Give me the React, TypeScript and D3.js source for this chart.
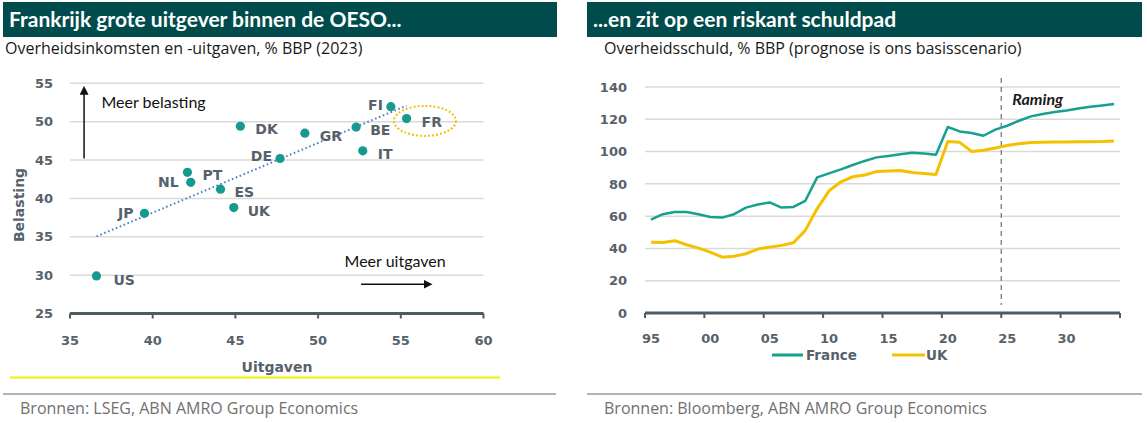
import * as d3 from "d3";

// ---- left panel: revenue vs spending, % GDP (2023)
const COUNTRIES = ["US", "JP", "NL", "PT", "ES", "UK", "DK", "DE", "GR", "BE", "IT", "FI", "FR"];
const SPENDING = [36.6, 39.5, 42.3, 42.1, 44.1, 44.9, 45.3, 47.7, 49.2, 52.3, 52.7, 54.4, 55.35];
const REVENUE = [29.9, 38.05, 42.1, 43.4, 41.2, 38.8, 49.4, 45.2, 48.5, 49.3, 46.2, 51.95, 50.4];

const LEFT_X_TICKS = [35, 40, 45, 50, 55, 60];
const LEFT_Y_TICKS = [25, 30, 35, 40, 45, 50, 55];

// ---- right panel: government debt, % GDP
const YEARS = [
  1995, 1996, 1997, 1998, 1999, 2000, 2001, 2002, 2003, 2004, 2005, 2006, 2007, 2008, 2009, 2010, 2011, 2012, 2013, 2014,
  2015, 2016, 2017, 2018, 2019, 2020, 2021, 2022, 2023, 2024, 2025, 2026, 2027, 2028, 2029, 2030, 2031, 2032, 2033, 2034,
];
const FRANCE = [
  57.9, 61.2, 62.6, 62.6, 61.2, 59.5, 59.1, 61.2, 65.3, 67.2, 68.5, 65.3, 65.7, 69.5, 84.0, 86.5, 89.0, 91.7, 94.2, 96.4,
  97.3, 98.3, 99.3, 98.8, 98.1, 115.2, 112.5, 111.5, 109.8, 113.6, 116.0, 119.1, 121.8, 123.3, 124.5, 125.5, 126.7, 127.8, 128.6, 129.5,
];
const UK = [
  43.9, 43.7, 44.8, 42.3, 40.2, 37.7, 34.6, 35.2, 36.7, 39.6, 40.8, 41.9, 43.5, 51.2, 64.7, 75.7, 81.3, 84.4, 85.5, 87.6,
  88.0, 88.3, 87.0, 86.4, 85.8, 106.3, 105.7, 100.1, 100.8, 102.2, 103.8, 104.9, 105.6, 105.8, 106.0, 106.0, 106.1, 106.1, 106.2, 106.5,
];
const RIGHT_Y_TICKS = [0, 20, 40, 60, 80, 100, 120, 140];
const RIGHT_X_LABELS = [1995, 2000, 2005, 2010, 2015, 2020, 2025, 2030];
const FORECAST_START = 2024.5;

// label placement next to each dot: dx, dy (px), anchor
const LABEL_POS: Record<string, [number, number, "start" | "end"]> = {
  US: [17, 4, "start"],
  JP: [-11, 0, "end"],
  NL: [-12, 0, "end"],
  PT: [15, 3, "start"],
  ES: [14, 3, "start"],
  UK: [14, 3, "start"],
  DK: [15, 3, "start"],
  DE: [-8, -3, "end"],
  GR: [15, 3, "start"],
  BE: [14, 3, "start"],
  IT: [15, 3, "start"],
  FI: [-8, -2, "end"],
  FR: [15, 3, "start"],
};

const DARK = "#004c4c";
const TEAL = "#16998f";
const YELLOW = "#f5c000";
const GRID = "#d9d9d9";
const AXIS = "#4f5b62";
const TICK_TXT = "#56626b";
const F_HEAD = "Lato, sans-serif";
const F_BOLD = "'DejaVu Sans', sans-serif";
const F_TEXT = "'Open Sans', sans-serif";

function Header({ x, w, title, sub, subX }: { x: number; w: number; title: string; sub: string; subX: number }) {
  return (
    <g>
      <rect x={x} y={2} width={w} height={35} fill={DARK} />
      <text x={x + 6} y={27} fill="#fff" fontFamily={F_HEAD} fontWeight={700} fontSize={21}>
        {title}
      </text>
      <text x={subX} y={54} fill="#1a1a1a" fontFamily={F_TEXT} fontSize={16}>
        {sub}
      </text>
    </g>
  );
}

function Scatter() {
  const x = d3.scaleLinear().domain([35, 60]).range([70, 483.5]);
  const y = d3.scaleLinear().domain([25, 55]).range([313.5, 83.3]);

  // least-squares trend line over the data range
  const mx = d3.mean(SPENDING)!;
  const my = d3.mean(REVENUE)!;
  const slope =
    d3.sum(SPENDING, (v, i) => (v - mx) * (REVENUE[i] - my)) / d3.sum(SPENDING, (v) => (v - mx) * (v - mx));
  const [x0, x1] = d3.extent(SPENDING) as [number, number];
  const trend = (v: number) => my + slope * (v - mx);

  return (
    <g>
      {LEFT_Y_TICKS.slice(1).map((t) => (
        <line key={t} x1={x(35)} x2={x(60)} y1={y(t)} y2={y(t)} stroke={GRID} strokeWidth={1.5} />
      ))}
      {LEFT_Y_TICKS.map((t) => (
        <text key={t} x={53} y={y(t)} dy="0.36em" textAnchor="end" fill={TICK_TXT} fontFamily={F_BOLD} fontWeight={700} fontSize={13}>
          {t}
        </text>
      ))}
      <line x1={x(35)} x2={x(60)} y1={y(25)} y2={y(25)} stroke={AXIS} strokeWidth={3} />
      {LEFT_X_TICKS.map((t) => (
        <g key={t}>
          <line x1={x(t)} x2={x(t)} y1={y(25)} y2={y(25) + 5} stroke={AXIS} strokeWidth={2} />
          <text x={x(t)} y={340} dy="0.36em" textAnchor="middle" fill={TICK_TXT} fontFamily={F_BOLD} fontWeight={700} fontSize={13}>
            {t}
          </text>
        </g>
      ))}
      <text x={277} y={367} dy="0.36em" textAnchor="middle" fill={TICK_TXT} fontFamily={F_BOLD} fontWeight={700} fontSize={14}>
        Uitgaven
      </text>
      <text
        transform={`translate(19,${205}) rotate(-90)`}
        textAnchor="middle"
        dy="0.36em"
        fill={TICK_TXT}
        fontFamily={F_BOLD}
        fontWeight={700}
        fontSize={14}
      >
        Belasting
      </text>

      <line
        x1={x(x0)}
        x2={x(x1)}
        y1={y(trend(x0))}
        y2={y(trend(x1))}
        stroke="#4a80c8"
        strokeWidth={2}
        strokeDasharray="1.6 2.6"
      />
      <ellipse cx={x(56.46)} cy={y(50.1)} rx={31} ry={15} fill="none" stroke={YELLOW} strokeWidth={2} strokeDasharray="2 2" />

      {COUNTRIES.map((c, i) => {
        const [dx, dy, anchor] = LABEL_POS[c];
        return (
          <g key={c}>
            <circle cx={x(SPENDING[i])} cy={y(REVENUE[i])} r={4.6} fill={TEAL} />
            <text
              x={x(SPENDING[i]) + dx}
              y={y(REVENUE[i]) + dy}
              dy="0.36em"
              textAnchor={anchor}
              fill={TICK_TXT}
              fontFamily={F_BOLD}
              fontWeight={700}
              fontSize={14}
            >
              {c}
            </text>
          </g>
        );
      })}

      {/* direction arrows */}
      <line x1={x(35.85)} x2={x(35.85)} y1={y(45.2)} y2={y(54.2)} stroke="#111" strokeWidth={1.5} markerEnd="url(#arrow)" />
      <text x={x(36.9)} y={y(52.5)} dy="0.36em" fill="#111" fontFamily={F_HEAD} fontSize={16}>
        Meer belasting
      </text>
      <line x1={x(52.6)} x2={x(56.7)} y1={y(28.8)} y2={y(28.8)} stroke="#111" strokeWidth={1.5} markerEnd="url(#arrow)" />
      <text x={x(51.6)} y={y(31.8)} dy="0.36em" fill="#111" fontFamily={F_HEAD} fontSize={16}>
        Meer uitgaven
      </text>
    </g>
  );
}

function Debt() {
  const x = d3.scaleLinear().domain([1994.5, 2034.5]).range([645, 1120]);
  const y = d3.scaleLinear().domain([0, 140]).range([313, 87]);
  const line = d3
    .line<number>()
    .x((_, i) => x(YEARS[i]))
    .y((v) => y(v));
  const tickPos = [...RIGHT_X_LABELS.map((t) => t - 0.5), 2034.5];

  return (
    <g>
      {RIGHT_Y_TICKS.slice(1).map((t) => (
        <line key={t} x1={x(1994.5)} x2={x(2034.5)} y1={y(t)} y2={y(t)} stroke={GRID} strokeWidth={1.5} />
      ))}
      {RIGHT_Y_TICKS.map((t) => (
        <text key={t} x={627} y={y(t)} dy="0.36em" textAnchor="end" fill={TICK_TXT} fontFamily={F_BOLD} fontWeight={700} fontSize={13}>
          {t}
        </text>
      ))}
      <line x1={x(FORECAST_START)} x2={x(FORECAST_START)} y1={78} y2={305} stroke="#7a7a7a" strokeWidth={1.3} strokeDasharray="5 4" />
      <text x={x(FORECAST_START) + 11} y={99} dy="0.36em" fill="#1a1a1a" fontFamily={F_HEAD} fontWeight={700} fontStyle="italic" fontSize={16}>
        Raming
      </text>
      <path d={line(UK)!} fill="none" stroke={YELLOW} strokeWidth={3} strokeLinejoin="round" />
      <path d={line(FRANCE)!} fill="none" stroke="#17a08f" strokeWidth={2.5} strokeLinejoin="round" />
      <line x1={x(1994.5)} x2={x(2034.5)} y1={y(0)} y2={y(0)} stroke={AXIS} strokeWidth={3} />
      {tickPos.map((t) => (
        <line key={t} x1={x(t)} x2={x(t)} y1={y(0)} y2={y(0) + 5} stroke={AXIS} strokeWidth={2} />
      ))}
      {RIGHT_X_LABELS.map((t) => (
        <text key={t} x={x(t)} y={338} dy="0.36em" textAnchor="middle" fill={TICK_TXT} fontFamily={F_BOLD} fontWeight={700} fontSize={13}>
          {String(t % 100).padStart(2, "0")}
        </text>
      ))}
      {/* legend */}
      <line x1={772} x2={803} y1={355} y2={355} stroke="#17a08f" strokeWidth={3} />
      <text x={806} y={355} dy="0.36em" fill={TICK_TXT} fontFamily={F_BOLD} fontWeight={700} fontSize={13.5}>
        France
      </text>
      <line x1={892} x2={925} y1={355} y2={355} stroke={YELLOW} strokeWidth={3} />
      <text x={926} y={355} dy="0.36em" fill={TICK_TXT} fontFamily={F_BOLD} fontWeight={700} fontSize={13.5}>
        UK
      </text>
    </g>
  );
}

export default function App() {
  return (
    <svg width={1147} height={423} style={{ position: "absolute", left: 0, top: 0, background: "#fff" }}>
      <defs>
        <marker id="arrow" viewBox="0 0 10 10" refX="6" refY="5" markerWidth="6" markerHeight="6" orient="auto">
          <path d="M0,0 L10,5 L0,10 z" fill="#111" />
        </marker>
      </defs>
      <rect width={1147} height={423} fill="#fff" />
      <Header x={3} w={554} subX={5} title="Frankrijk grote uitgever binnen de OESO..." sub="Overheidsinkomsten en -uitgaven, % BBP (2023)" />
      <Header x={587} w={555} subX={604} title="...en zit op een riskant schuldpad" sub="Overheidsschuld, % BBP (prognose is ons basisscenario)" />
      <Scatter />
      <Debt />
      <line x1={10} x2={500} y1={377.5} y2={377.5} stroke="#f2f000" strokeWidth={2} />
      <line x1={3} x2={556} y1={394} y2={394} stroke="#b3b3b3" strokeWidth={2} />
      <line x1={587} x2={1142} y1={394} y2={394} stroke="#b3b3b3" strokeWidth={2} />
      <text x={20} y={408} dy="0.36em" fill="#707070" fontFamily={F_TEXT} fontSize={16}>
        Bronnen: LSEG, ABN AMRO Group Economics
      </text>
      <text x={604} y={408} dy="0.36em" fill="#707070" fontFamily={F_TEXT} fontSize={16}>
        Bronnen: Bloomberg, ABN AMRO Group Economics
      </text>
    </svg>
  );
}
